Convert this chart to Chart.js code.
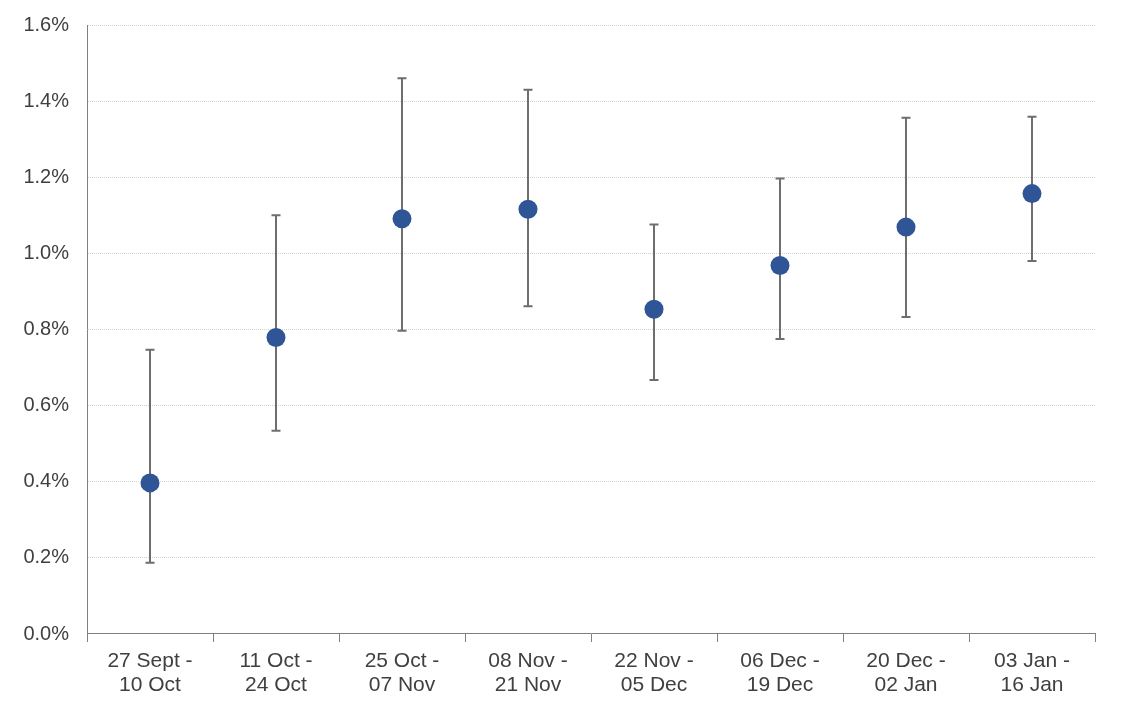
<!DOCTYPE html>
<html>
<head>
<meta charset="utf-8">
<script src="https://cdn.jsdelivr.net/npm/chart.js@4/dist/chart.umd.min.js"></script>
<style>
html,body{margin:0;padding:0;background:#fff;}
#wrap{width:1122px;height:713px;position:relative;}
</style>
</head>
<body>
<div id="wrap"><canvas id="c" width="1122" height="713"></canvas></div>
<script>
const categories = [
  ["27 Sept -","10 Oct"],
  ["11 Oct -","24 Oct"],
  ["25 Oct -","07 Nov"],
  ["08 Nov -","21 Nov"],
  ["22 Nov -","05 Dec"],
  ["06 Dec -","19 Dec"],
  ["20 Dec -","02 Jan"],
  ["03 Jan -","16 Jan"]
];
const estimate = [0.397, 0.779, 1.091, 1.116, 0.853, 0.968, 1.069, 1.157];
const lower    = [0.187, 0.534, 0.797, 0.861, 0.667, 0.775, 0.833, 0.980];
const upper    = [0.747, 1.100, 1.460, 1.430, 1.076, 1.197, 1.356, 1.359];
const yTicks   = [0, 0.2, 0.4, 0.6, 0.8, 1.0, 1.2, 1.4, 1.6];

const errorBars = {
  id: 'errorBars',
  beforeDatasetsDraw(chart) {
    const ctx = chart.ctx;
    const y = chart.scales.y;
    const meta = chart.getDatasetMeta(0);
    ctx.save();
    ctx.strokeStyle = '#6e6e6e';
    ctx.lineWidth = 2;
    meta.data.forEach((pt, i) => {
      const x = pt.x;
      const yl = y.getPixelForValue(lower[i]);
      const yu = y.getPixelForValue(upper[i]);
      ctx.beginPath();
      ctx.moveTo(x, yl); ctx.lineTo(x, yu);
      ctx.moveTo(x - 4.5, yl); ctx.lineTo(x + 4.5, yl);
      ctx.moveTo(x - 4.5, yu); ctx.lineTo(x + 4.5, yu);
      ctx.stroke();
    });
    ctx.restore();
  }
};

const bg = {
  id: 'bg',
  beforeDraw(chart) {
    const ctx = chart.ctx;
    ctx.save();
    ctx.fillStyle = '#ffffff';
    ctx.fillRect(0, 0, chart.width, chart.height);
    ctx.restore();
  }
};

new Chart(document.getElementById('c'), {
  type: 'line',
  data: {
    labels: categories,
    datasets: [{
      data: estimate,
      showLine: false,
      pointRadius: 9.5,
      pointHoverRadius: 9.5,
      pointBackgroundColor: '#2F5597',
      pointBorderColor: '#2F5597',
      pointBorderWidth: 0
    }]
  },
  options: {
    responsive: false,
    maintainAspectRatio: false,
    animation: false,
    devicePixelRatio: 1,
    plugins: { legend: { display: false }, tooltip: { enabled: false } },
    layout: { autoPadding: false, padding: { left: 0, right: 27, top: 25, bottom: 9 } },
    scales: {
      x: {
        offset: true,
        grid: { display: true, offset: true, drawOnChartArea: false, drawTicks: true, tickLength: 8, color: '#808080', lineWidth: 1 },
        border: { display: true, color: '#808080', width: 1 },
        ticks: { color: '#404040', font: { family: 'Liberation Sans, Arial', size: 21, lineHeight: 1.143 }, padding: 7, maxRotation: 0, autoSkip: false },
      },
      y: {
        min: 0, max: 1.6,
        afterBuildTicks(scale) { scale.ticks = yTicks.map(v => ({ value: v })); },
        afterFit(scale) { scale.width = 87; scale.paddingTop = 0; scale.paddingBottom = 0; },
        grid: { color: '#d0d0d0', lineWidth: 1, drawTicks: false },
        border: { display: true, color: '#808080', width: 1, dash: [1, 1] },
        ticks: {
          color: '#404040', padding: 18,
          font: { family: 'Liberation Sans, Arial', size: 20 },
          callback: v => v.toFixed(1) + '%'
        }
      }
    }
  },
  plugins: [bg, errorBars]
});
</script>
</body>
</html>
